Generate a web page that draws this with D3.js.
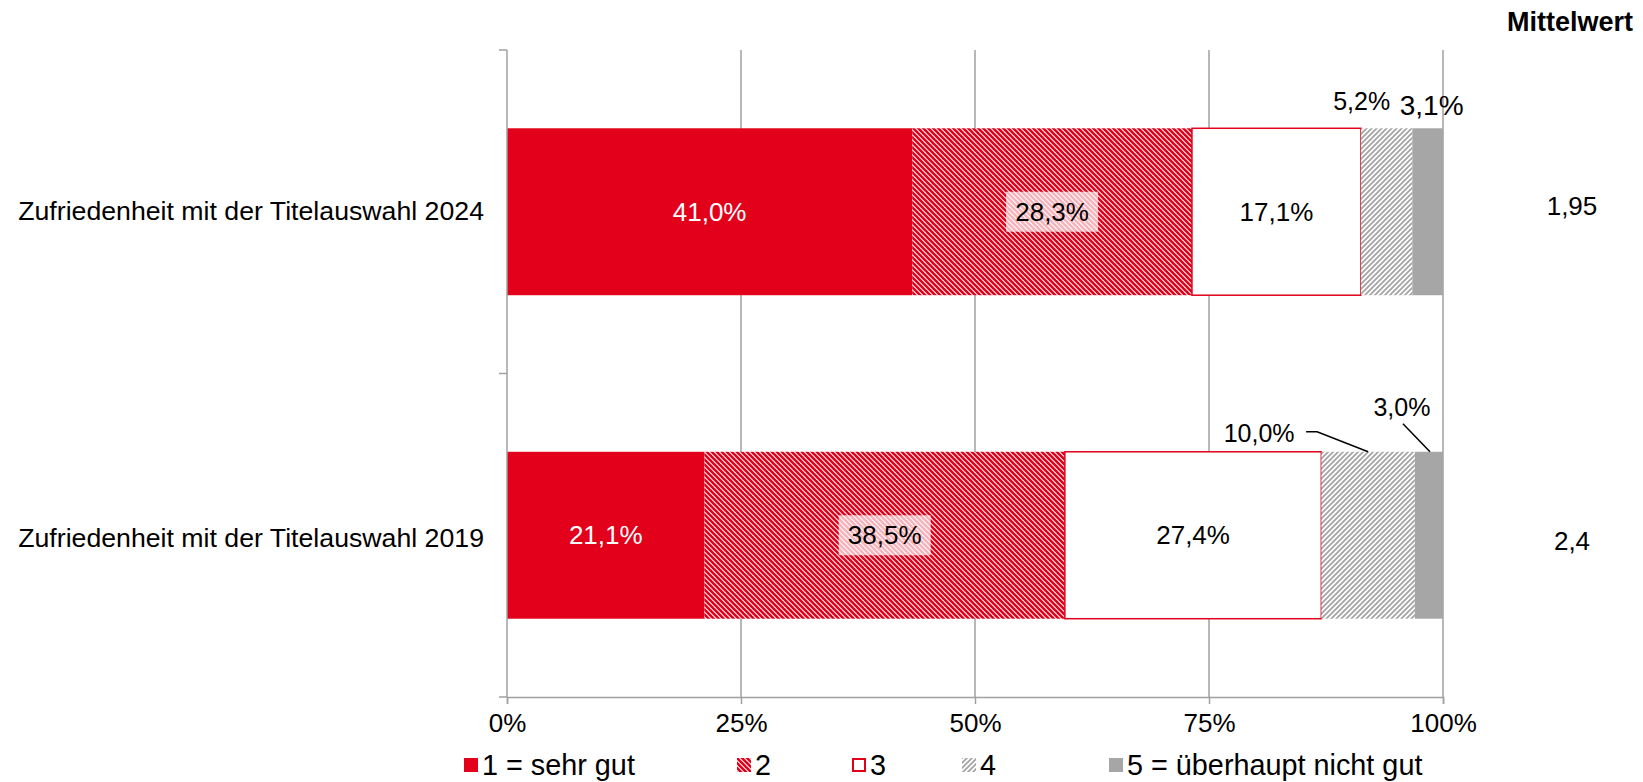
<!DOCTYPE html>
<html>
<head>
<meta charset="utf-8">
<script src="https://cdn.jsdelivr.net/npm/d3@7"></script>
<style>
  body { margin: 0; background: #fff; }
  text { font-family: "Liberation Sans", Arial, sans-serif; fill: #000; }
</style>
</head>
<body>
<script>
// data
const categories = ["Zufriedenheit mit der Titelauswahl 2024", "Zufriedenheit mit der Titelauswahl 2019"];
const seriesNames = ["1 = sehr gut", "2", "3", "4", "5 = überhaupt nicht gut"];
const values2024 = [41.0, 28.3, 17.1, 5.2, 3.1];
const values2019 = [21.1, 38.5, 27.4, 10.0, 3.0];
const means = [1.95, 2.4];
const xTicks = [0, 0.25, 0.5, 0.75, 1];

const width = 1643, height = 782;
const red = "#e2001a", grey = "#a6a6a6", axisGrey = "#a0a0a0";
const font = 26;

const svg = d3.select("body").append("svg")
  .attr("width", width).attr("height", height);

// hatch patterns
const defs = svg.append("defs");
const p2 = defs.append("pattern").attr("id", "hatchRed")
  .attr("patternUnits", "userSpaceOnUse").attr("width", 5).attr("height", 5);
p2.append("rect").attr("width", 5).attr("height", 5).attr("fill", "#fff");
p2.append("path").attr("d", "M-1,-1L6,6M-1,4L1,6M4,-1L6,1")
  .attr("stroke", red).attr("stroke-width", 2.6);
const p4 = defs.append("pattern").attr("id", "hatchGrey")
  .attr("patternUnits", "userSpaceOnUse").attr("width", 5).attr("height", 5);
p4.append("rect").attr("width", 5).attr("height", 5).attr("fill", "#fff");
p4.append("path").attr("d", "M-1,6L6,-1M-1,1L1,-1M4,6L6,4")
  .attr("stroke", grey).attr("stroke-width", 1.9);

const fills = [red, "url(#hatchRed)", "#fff", "url(#hatchGrey)", grey];
const strokes = [null, null, red, null, null];

const rows = [values2024, values2019].map(function(v, i) {
  const o = {cat: categories[i]};
  seriesNames.forEach(function(s, j) { o[s] = v[j]; });
  return o;
});

const stack = d3.stack().keys(seriesNames).offset(d3.stackOffsetExpand);
const layers = stack(rows);

const x = d3.scaleLinear().domain([0, 1]).range([507, 1443]);
const y = d3.scaleBand().domain(categories).range([50, 697])
  .paddingInner(0.484).paddingOuter(0.242);

const loc = d3.formatLocale({decimal: ",", thousands: ".", grouping: [3], currency: ["", "€"]});
const pct = function(v) { return loc.format(".1f")(v) + "%"; };

// gridlines
svg.append("g").selectAll("line").data(xTicks.slice(1)).enter().append("line")
  .attr("x1", d => x(d)).attr("x2", d => x(d))
  .attr("y1", 50).attr("y2", 697)
  .attr("stroke", axisGrey).attr("stroke-width", 1.5);

// bars
const lg = svg.append("g").selectAll("g").data(layers).enter().append("g");
lg.selectAll("rect").data(function(d) { return d.map(function(p) { p.key = d.key; p.idx = d.index; return p; }); })
  .enter().append("rect")
  .attr("x", d => x(d[0]))
  .attr("width", d => x(d[1]) - x(d[0]))
  .attr("y", d => y(d.data.cat))
  .attr("height", y.bandwidth())
  .attr("fill", d => fills[d.idx])
  .attr("stroke", d => strokes[d.idx])
  .attr("stroke-width", 1.5);

// axes
const xAxis = svg.append("g").attr("transform", "translate(0,697)")
  .call(d3.axisBottom(x).tickValues(xTicks).tickSize(7).tickPadding(10)
    .tickFormat(d => Math.round(d * 100) + "%"));
xAxis.select(".domain").attr("stroke", axisGrey).attr("stroke-width", 1.5);
xAxis.selectAll("line").attr("stroke", axisGrey).attr("stroke-width", 1.5);
xAxis.selectAll("text").attr("font-size", font).attr("font-family", "Liberation Sans, Arial, sans-serif").attr("fill", "#000");

const yEdges = [50, 373.5, 697];
const yAx = svg.append("g");
yAx.append("line").attr("x1", 507).attr("x2", 507).attr("y1", 50).attr("y2", 697)
  .attr("stroke", axisGrey).attr("stroke-width", 1.5);
yAx.selectAll(".tk").data(yEdges).enter().append("line")
  .attr("x1", 499).attr("x2", 507).attr("y1", d => d).attr("y2", d => d)
  .attr("stroke", axisGrey).attr("stroke-width", 1.5);

// category labels
svg.append("g").selectAll("text").data(categories).enter().append("text")
  .attr("x", 484).attr("y", (d, i) => y(d) + y.bandwidth() / 2 + (i ? 2 : -1))
  .attr("dy", "0.35em").attr("text-anchor", "end").attr("font-size", 26.7)
  .text(d => d);

// segment labels
const lbl = svg.append("g");
const special = {
  "0-3": {dx: -25, y: -18, size: 25},
  "0-4": {dx: 4, y: -13, size: 28},
  "1-3": {dx: -109, y: -10, size: 25, lead: [[47, -10], [58, -10], [109, 10]]},
  "1-4": {dx: -27, y: -36, size: 25, lead: [[1, 8], [28, 36]]}
};
layers.forEach(function(layer, j) {
  layer.forEach(function(d, i) {
    const cx = (x(d[0]) + x(d[1])) / 2;
    const top = y(d.data.cat);
    const v = [values2024, values2019][i][j];
    const sp = special[i + "-" + j];
    if (sp) {
      lbl.append("text").attr("x", cx + sp.dx).attr("y", top + sp.y)
        .attr("text-anchor", "middle").attr("font-size", sp.size).text(pct(v));
      if (sp.lead) {
        const pts = sp.lead.map(p => [cx + sp.dx + p[0], top + sp.y + p[1]]);
        lbl.append("path").attr("d", d3.line()(pts))
          .attr("fill", "none").attr("stroke", "#000").attr("stroke-width", 1.5);
      }
      return;
    }
    const cy = top + y.bandwidth() / 2;
    if (j === 1) {
      lbl.append("rect").attr("x", cx - 46).attr("y", cy - 20).attr("width", 92).attr("height", 40)
        .attr("fill", "#fff").attr("opacity", 0.7);
    }
    lbl.append("text").attr("x", cx).attr("y", cy).attr("dy", "0.35em")
      .attr("text-anchor", "middle").attr("font-size", font)
      .style("fill", j === 0 ? "#fff" : "#000").text(pct(v));
  });
});

// Mittelwert column
svg.append("text").attr("x", 1633).attr("y", 31).attr("text-anchor", "end")
  .attr("font-size", 27).attr("font-weight", "bold").text("Mittelwert");
svg.append("g").selectAll("text").data(means).enter().append("text")
  .attr("x", 1572).attr("y", (d, i) => y(categories[i]) + y.bandwidth() / 2 + (i ? 6 : -6))
  .attr("dy", "0.35em").attr("text-anchor", "middle").attr("font-size", font)
  .text(d => String(d).replace(".", ","));

// legend
const legX = [464, 737, 852, 962, 1109];
const leg = svg.append("g").selectAll("g").data(seriesNames).enter().append("g")
  .attr("transform", (d, i) => "translate(" + legX[i] + ",758)");
leg.append("rect")
  .attr("x", (d, i) => i === 2 ? 1 : 0).attr("y", (d, i) => i === 2 ? 1 : 0)
  .attr("width", (d, i) => i === 2 ? 12 : 14).attr("height", (d, i) => i === 2 ? 12 : 14)
  .attr("fill", (d, i) => fills[i]).attr("stroke", (d, i) => strokes[i]).attr("stroke-width", 2);
leg.append("text").attr("x", 18).attr("y", 7).attr("dy", "0.35em")
  .attr("font-size", 28.8).text(d => d);
</script>
</body>
</html>
